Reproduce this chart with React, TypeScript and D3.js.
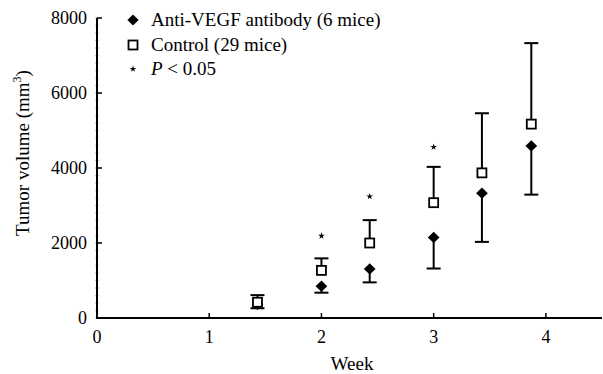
import { useEffect, useRef } from "react"
import * as d3 from "d3"

// weeks at which volumes were measured
const weeks = [1.43, 2.0, 2.43, 3.0, 3.43, 3.87]
// control group: mean and upper error bar
const controlMean = [420, 1270, 2000, 3075, 3870, 5170]
const controlUpper = [610, 1590, 2610, 4030, 5460, 7330]
// anti-VEGF group: mean and lower error bar
const antiMean = [360, 850, 1310, 2150, 3330, 4590]
const antiLower = [260, 675, 950, 1320, 2030, 3290]
// significance stars
const starWeeks = [2.0, 2.43, 3.0]
const starValues = [2190, 3240, 4560]

const yTicks = [0, 2000, 4000, 6000, 8000]
const xTicks = [0, 1, 2, 3, 4]
const legendLabels = ["Anti-VEGF antibody (6 mice)", "Control (29 mice)", "P < 0.05"]

export default function App() {
  const svgRef = useRef<SVGSVGElement>(null)

  useEffect(() => {
    if (!svgRef.current) return
    const svg = d3.select(svgRef.current)
    svg.selectAll("*").remove()

    const x = d3.scaleLinear().domain([0, 4.5]).range([97, 602])
    const y = d3.scaleLinear().domain([0, 8000]).range([318, 18])

    const g = svg.append("g").attr("font-family", "Liberation Serif, serif")

    // minor ticks on y axis
    g.selectAll(".minor")
      .data(d3.range(0, 8001, 200))
      .enter()
      .append("line")
      .attr("x1", x(0) - 2)
      .attr("x2", x(0) + 2)
      .attr("y1", (d) => y(d))
      .attr("y2", (d) => y(d))
      .attr("stroke", "#999")
      .attr("stroke-width", 0.6)

    // axes lines
    g.append("line")
      .attr("x1", x(0)).attr("x2", x(0))
      .attr("y1", y(0) + 1).attr("y2", y(8000))
      .attr("stroke", "black").attr("stroke-width", 2)
    g.append("line")
      .attr("x1", x(0) - 1).attr("x2", x(4.5))
      .attr("y1", y(0)).attr("y2", y(0))
      .attr("stroke", "black").attr("stroke-width", 2)

    // y major ticks (inward)
    g.selectAll(".ytick")
      .data(yTicks)
      .enter()
      .append("line")
      .attr("x1", x(0))
      .attr("x2", x(0) + 5)
      .attr("y1", (d) => y(d))
      .attr("y2", (d) => y(d))
      .attr("stroke", "black")
      .attr("stroke-width", 1.5)

    g.selectAll(".ylabel")
      .data(yTicks)
      .enter()
      .append("text")
      .attr("x", x(0) - 10)
      .attr("y", (d) => y(d) + 6)
      .attr("text-anchor", "end")
      .attr("font-size", 18)
      .text((d) => d)

    // x major ticks (inward)
    g.selectAll(".xtick")
      .data(xTicks.slice(1))
      .enter()
      .append("line")
      .attr("x1", (d) => x(d))
      .attr("x2", (d) => x(d))
      .attr("y1", y(0))
      .attr("y2", y(0) - 5)
      .attr("stroke", "black")
      .attr("stroke-width", 1.5)

    g.selectAll(".xlabel")
      .data(xTicks)
      .enter()
      .append("text")
      .attr("x", (d) => x(d))
      .attr("y", 343)
      .attr("text-anchor", "middle")
      .attr("font-size", 18)
      .text((d) => d)

    // axis titles
    g.append("text")
      .attr("x", 352)
      .attr("y", 370)
      .attr("text-anchor", "middle")
      .attr("font-size", 19)
      .text("Week")

    const yTitle = g.append("text")
      .attr("transform", `translate(29, ${y(4400)}) rotate(-90)`)
      .attr("text-anchor", "middle")
      .attr("font-size", 19)
    yTitle.append("tspan").text("Tumor volume (mm")
    yTitle.append("tspan").attr("dy", -8).attr("font-size", 12).text("3")
    yTitle.append("tspan").attr("dy", 8).text(")")

    const cap = 7

    // control error bars (up)
    weeks.forEach((w, i) => {
      const cx = x(w)
      g.append("line")
        .attr("x1", cx).attr("x2", cx)
        .attr("y1", y(controlMean[i])).attr("y2", y(controlUpper[i]))
        .attr("stroke", "black").attr("stroke-width", 2)
      g.append("line")
        .attr("x1", cx - cap).attr("x2", cx + cap)
        .attr("y1", y(controlUpper[i])).attr("y2", y(controlUpper[i]))
        .attr("stroke", "black").attr("stroke-width", 2)
    })

    // anti-VEGF error bars (down)
    weeks.forEach((w, i) => {
      const cx = x(w)
      g.append("line")
        .attr("x1", cx).attr("x2", cx)
        .attr("y1", y(antiMean[i])).attr("y2", y(antiLower[i]))
        .attr("stroke", "black").attr("stroke-width", 2)
      g.append("line")
        .attr("x1", cx - cap).attr("x2", cx + cap)
        .attr("y1", y(antiLower[i])).attr("y2", y(antiLower[i]))
        .attr("stroke", "black").attr("stroke-width", 2)
    })

    const diamond = d3.symbol().type(d3.symbolDiamond2).size(80)

    // anti-VEGF diamonds
    g.selectAll(".anti")
      .data(weeks)
      .enter()
      .append("path")
      .attr("d", diamond)
      .attr("transform", (d, i) => `translate(${x(d)}, ${y(antiMean[i])}) scale(1.05, 1)`)
      .attr("fill", "black")

    // control squares
    g.selectAll(".ctrl")
      .data(weeks)
      .enter()
      .append("rect")
      .attr("x", (d) => x(d) - 4.5)
      .attr("y", (d, i) => y(controlMean[i]) - 4.5)
      .attr("width", 9)
      .attr("height", 9)
      .attr("fill", "white")
      .attr("stroke", "black")
      .attr("stroke-width", 1.8)

    // stars
    const star = d3.symbol().type(d3.symbolStar).size(14)
    g.selectAll(".star")
      .data(starWeeks)
      .enter()
      .append("path")
      .attr("d", star)
      .attr("transform", (d, i) => `translate(${x(d)}, ${y(starValues[i])})`)
      .attr("fill", "black")

    // legend
    const lg = g.append("g")
    const rowY = [20, 45, 69]
    lg.append("path")
      .attr("d", diamond)
      .attr("transform", `translate(133, ${rowY[0]})`)
      .attr("fill", "black")
    lg.append("rect")
      .attr("x", 128.5).attr("y", rowY[1] - 4.5)
      .attr("width", 9).attr("height", 9)
      .attr("fill", "white").attr("stroke", "black").attr("stroke-width", 1.8)
    lg.append("path")
      .attr("d", star)
      .attr("transform", `translate(133, ${rowY[2]})`)
      .attr("fill", "black")

    lg.append("text")
      .attr("x", 151).attr("y", rowY[0] + 6)
      .attr("font-size", 19)
      .text(legendLabels[0])
    lg.append("text")
      .attr("x", 151).attr("y", rowY[1] + 6)
      .attr("font-size", 19)
      .text(legendLabels[1])
    const pText = lg.append("text")
      .attr("x", 151).attr("y", rowY[2] + 6)
      .attr("font-size", 19)
    pText.append("tspan").attr("font-style", "italic").text("P")
    pText.append("tspan").text(" < 0.05")
  }, [])

  return (
    <svg
      ref={svgRef}
      width={603}
      height={374}
      style={{ position: "absolute", left: 0, top: 0, background: "white" }}
    ></svg>
  )
}
